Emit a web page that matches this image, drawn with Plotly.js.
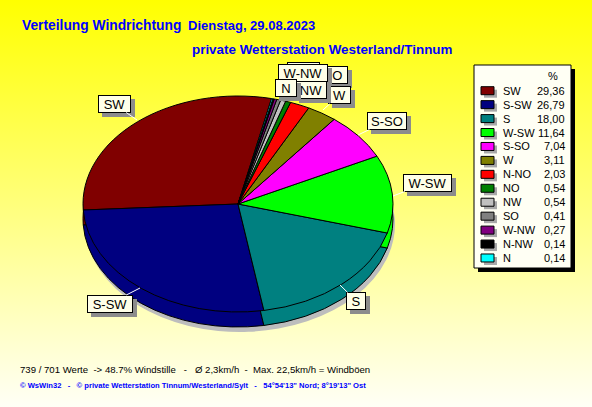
<!DOCTYPE html>
<html lang="de">
<head>
<meta charset="utf-8">
<script src="https://cdn.plot.ly/plotly-3.0.1.min.js"></script>
<style>
html,body{margin:0;padding:0;width:592px;height:407px;overflow:hidden;}
body{background:linear-gradient(to bottom,#FFFF00 0%,#FFFFF6 100%);}
#chart{width:592px;height:407px;}
.pielayer path{vector-effect:non-scaling-stroke;}
</style>
</head>
<body>
<div id="chart"></div>
<script>
// ---------- data ----------
const directions = ['SW','S-SW','S','W-SW','S-SO','W','N-NO','NO','NW','SO','W-NW','N-NW','N'];
const percent    = [29.36, 26.79, 18.00, 11.64, 7.04, 3.11, 2.03, 0.54, 0.54, 0.41, 0.27, 0.14, 0.14];
const legendHeader = '%';
const titleMain  = 'Verteilung Windrichtung';
const titleDate  = 'Dienstag, 29.08.2023';
const subtitle   = 'private Wetterstation Westerland/Tinnum';
const statsLine  = '739 / 701 Werte\u00A0\u00A0-> 48.7% Windstille\u00A0\u00A0\u00A0-\u00A0\u00A0\u00A0Ø 2,3km/h\u00A0\u00A0-\u00A0\u00A0Max. 22,5km/h = Windböen';
const creditLine = '© WsWin32\u00A0\u00A0\u00A0-\u00A0\u00A0\u00A0© private Wetterstation Tinnum/Westerland/Sylt\u00A0\u00A0\u00A0-\u00A0\u00A0\u00A054°54\'13" Nord; 8°19\'13" Ost';

// ---------- styles ----------
const sliceColors = ['#800000','#000080','#008080','#00FF00','#FF00FF','#808000','#FF0000','#008000','#C0C0C0','#808080','#800080','#000000','#00FFFF'];
const F = 'Liberation Sans, Arial, sans-serif';
const BLUE = '#0000FF';

// ---------- geometry (layout only) ----------
const W = 592, H = 407;
const CX = 238, CY = 204, RY = 108, RX = 155, DEPTH = 15;
const START_ANGLE = 12.5;
const K = RX / RY;
const px = x => x / W, py = y => 1 - y / H;

const total = percent.reduce((a, b) => a + b, 0);
const rotation = START_ANGLE - percent[0] / total * 360;

function dom(cx, cy, r) {
  return {x: [(cx - r) / W, (cx + r) / W], y: [1 - (cy + r) / H, 1 - (cy - r) / H]};
}

const common = {type: 'pie', sort: false, direction: 'counterclockwise', rotation: rotation,
  textinfo: 'none', hoverinfo: 'skip', showlegend: false};

const data = [
  Object.assign({}, common, {values: [total], labels: ['Schatten'],
    marker: {colors: ['#BDBDBD'], line: {width: 0}}, domain: dom(CX + 2 / K, CY + DEPTH + 5, RY)}),
  Object.assign({}, common, {values: percent, labels: directions,
    marker: {colors: sliceColors, line: {color: '#000000', width: 1}}, domain: dom(CX, CY + DEPTH, RY)}),
  Object.assign({}, common, {values: percent, labels: directions,
    marker: {colors: sliceColors, line: {color: '#000000', width: 1}}, domain: dom(CX, CY, RY)})
];

// ---------- pie labels ----------
const labelBoxes = {
  'SW':   {c: [114, 104],   w: 33, tip: [137, 120]},
  'S-SW': {c: [109.7, 303.5], w: 46, tip: [140, 288]},
  'S':    {c: [356.3, 301], w: 20, tip: [340, 285]},
  'W-SW': {c: [427, 183],   w: 49, tip: [393, 196]},
  'S-SO': {c: [387, 121],   w: 40, tip: [358, 135]},
  'NO':   {c: [303.5, 70.5], w: 33, hidden: true},
  'SO':   {c: [333, 74.5],  w: 30},
  'W-NW': {c: [303, 73],    w: 50},
  'W':    {c: [339, 95.3],  w: 23, tip: [323, 110]},
  'NW':   {c: [311, 89.5],  w: 32},
  'N':    {c: [286, 88],    w: 22}
};
const labelOrder = ['SW','S-SW','S','W-SW','S-SO','NO','SO','W-NW','W','NW','N'];

const anns = [];
const shapes = [];

labelOrder.forEach(name => {
  const b = labelBoxes[name];
  const bx = b.c[0], by = b.c[1], w = b.w, h = 18;
  anns.push({xref: 'paper', yref: 'paper', x: px(bx + 4), y: py(by + 4), xanchor: 'center', yanchor: 'middle',
    text: '\u00A0', showarrow: false, width: w - 4, height: h - 4, borderpad: 1, borderwidth: 1,
    bgcolor: '#8C8C8C', bordercolor: '#8C8C8C', font: {family: F, size: 13, color: '#8C8C8C'}});
  const a = {xref: 'paper', yref: 'paper', text: b.hidden ? '\u00A0' : name, font: {family: F, size: 13, color: '#000000'},
    bgcolor: '#FFFFE8', bordercolor: '#000000', borderwidth: 1, borderpad: 1, width: w - 4, height: h - 4};
  if (b.tip) {
    Object.assign(a, {x: px(b.tip[0]), y: py(b.tip[1]), showarrow: true, axref: 'pixel', ayref: 'pixel',
      ax: bx - b.tip[0], ay: by - b.tip[1], arrowhead: 0, arrowwidth: 1, arrowcolor: '#FFFFFF', standoff: 0});
  } else {
    Object.assign(a, {x: px(bx), y: py(by), showarrow: false, xanchor: 'center', yanchor: 'middle'});
  }
  anns.push(a);
});

// ---------- legend (custom box) ----------
const LG = {x0: 474, y0: 65, x1: 571, y1: 268, sh: 4, rowY0: 90.7, rowDY: 13.94,
  swX0: 481, swX1: 494, swH: 8, labelX: 501, valueX: 567, headerX: 553, headerY: 76};

shapes.push({type: 'rect', xref: 'paper', yref: 'paper', x0: px(LG.x0 + LG.sh), x1: px(LG.x1 + LG.sh),
  y0: py(LG.y0 + LG.sh), y1: py(LG.y1 + LG.sh), fillcolor: '#000000', line: {width: 0}});
shapes.push({type: 'rect', xref: 'paper', yref: 'paper', x0: px(LG.x0), x1: px(LG.x1),
  y0: py(LG.y0), y1: py(LG.y1), fillcolor: '#FFFFF4', line: {color: '#000000', width: 1}});

anns.push({xref: 'paper', yref: 'paper', x: px(LG.headerX), y: py(LG.headerY), xanchor: 'center', yanchor: 'middle',
  text: legendHeader, showarrow: false, font: {family: F, size: 11, color: '#000000'}});

directions.forEach((d, i) => {
  const yc = LG.rowY0 + i * LG.rowDY;
  shapes.push({type: 'rect', xref: 'paper', yref: 'paper', x0: px(LG.swX0 + 3), x1: px(LG.swX1 + 3),
    y0: py(yc - LG.swH / 2 + 3), y1: py(yc + LG.swH / 2 + 3), fillcolor: '#A8A8A8', line: {width: 0}});
  shapes.push({type: 'rect', xref: 'paper', yref: 'paper', x0: px(LG.swX0), x1: px(LG.swX1),
    y0: py(yc - LG.swH / 2), y1: py(yc + LG.swH / 2), fillcolor: sliceColors[i], line: {color: '#000000', width: 1}});
  anns.push({xref: 'paper', yref: 'paper', x: px(LG.labelX), y: py(yc), xanchor: 'left', yanchor: 'middle',
    text: d, showarrow: false, font: {family: F, size: 11, color: '#000000'}});
  anns.push({xref: 'paper', yref: 'paper', x: px(LG.valueX), y: py(yc), xanchor: 'right', yanchor: 'middle',
    text: percent[i].toFixed(2).replace('.', ','), showarrow: false, font: {family: F, size: 11, color: '#000000'}});
});

// ---------- titles / footer ----------
anns.push({xref: 'paper', yref: 'paper', x: px(186), y: py(25.5), xanchor: 'left', yanchor: 'middle',
  text: '<b>' + titleDate + '</b>', showarrow: false, font: {family: F, size: 13, color: BLUE}});
anns.push({xref: 'paper', yref: 'paper', x: px(190), y: py(49.5), xanchor: 'left', yanchor: 'middle',
  text: '<b>' + subtitle + '</b>', showarrow: false, font: {family: F, size: 13.4, color: BLUE}});
anns.push({xref: 'paper', yref: 'paper', x: px(18), y: py(369), xanchor: 'left', yanchor: 'middle',
  text: statsLine, showarrow: false, font: {family: F, size: 9.6, color: '#000000'}});
anns.push({xref: 'paper', yref: 'paper', x: px(18), y: py(385), xanchor: 'left', yanchor: 'middle',
  text: '<b>' + creditLine + '</b>', showarrow: false, font: {family: F, size: 7.6, color: BLUE}});

const layout = {
  width: W, height: H,
  margin: {l: 0, r: 0, t: 0, b: 0, pad: 0},
  paper_bgcolor: 'rgba(0,0,0,0)', plot_bgcolor: 'rgba(0,0,0,0)',
  showlegend: false,
  title: {text: '<b>' + titleMain + '</b>', x: px(22), xanchor: 'left', xref: 'paper',
    y: py(25.5), yanchor: 'middle', yref: 'paper', font: {family: F, size: 13.8, color: BLUE}},
  annotations: anns,
  shapes: shapes
};

Plotly.newPlot('chart', data, layout, {staticPlot: true, displayModeBar: false, responsive: false}).then(gd => {
  const pl = gd.querySelector('.pielayer');
  if (pl) pl.setAttribute('transform', 'translate(' + CX + ',0) scale(' + K + ',1) translate(' + (-CX) + ',0)');
});
</script>
</body>
</html>
